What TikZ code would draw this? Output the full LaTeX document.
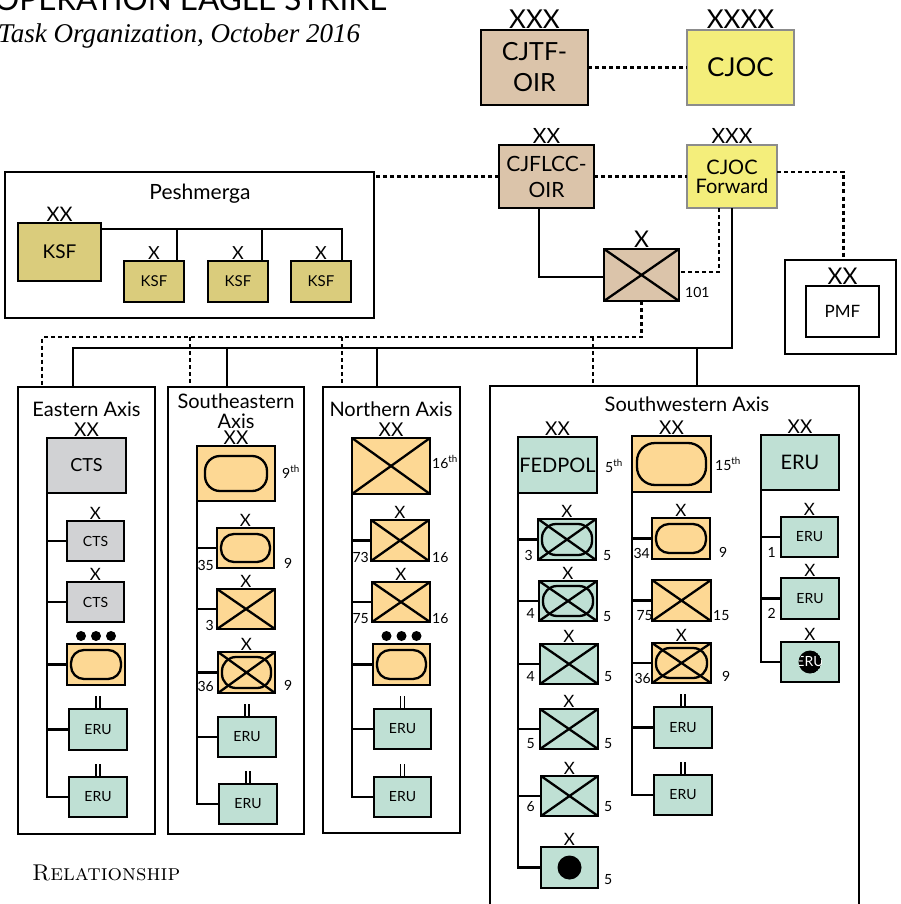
\documentclass[tikz,border=0pt]{standalone}
\usepackage{fontspec}
\usetikzlibrary{calc}
\newfontfamily\lbl{Lato}
\newfontfamily\serifit{Liberation Serif}
\definecolor{tanc}{HTML}{DBC4AA}
\definecolor{yelc}{HTML}{F4EE7B}
\definecolor{olvc}{HTML}{DACC7C}
\definecolor{gryc}{HTML}{D1D2D4}
\definecolor{orc}{HTML}{FDD894}
\definecolor{grnc}{HTML}{BFE0D4}
\tikzset{
 ub/.style={draw, line width=2.8pt, inner sep=0pt, outer sep=0pt, align=center},
 tanbox/.style={ub, fill=tanc},
 yelbox/.style={ub, fill=yelc, draw=black!45},
 olvbox/.style={ub, fill=olvc},
 grybox/.style={ub, fill=gryc},
 orbox/.style={ub, fill=orc},
 grnbox/.style={ub, fill=grnc},
 whbox/.style={ub, fill=white},
 t/.style={font=\lbl\fontsize{#1}{#1}\selectfont},
 ech/.style={inner sep=0pt, anchor=base, font=\lbl\fontsize{#1}{#1}\selectfont},
 num/.style={inner sep=0pt, font=\lbl\fontsize{14}{14}\selectfont},
 ttl/.style={inner sep=0pt, anchor=base, font=\lbl\fontsize{20}{20}\selectfont},
 conn/.style={line width=2.6pt},
 dconn/.style={line width=2.5pt, dash pattern=on 4pt off 3pt},
 xl/.style={line width=2.3pt},
}
\newcommand\ubox[7]{\node[#2, minimum width={(#5-#3)*1pt}, minimum height={(#6-#4)*1pt}] (#1) at ({(#3+#5)/2},{(#4+#6)/2}) {#7};}
\newcommand\xcross[1]{\draw[xl] (#1.north west) -- (#1.south east) (#1.north east) -- (#1.south west);}
\newcommand\pill[4]{\draw[xl, rounded corners=#4pt] ($(#1.north west)+(#2,#3)$) rectangle ($(#1.south east)+(-#2,-#3)$);}
\newcommand\ech[3]{\node[ech=#2] (#1e) at ($(#1.north)+(0,-1.5)$) {#3};}
\newcommand\twoln[1]{\draw[line width=1.7pt] ($(#1.north)+(-2,0)$) -- ++(0,-13) ($(#1.north)+(2,0)$) -- ++(0,-13);}
\newcommand\tridots[1]{\foreach \dx in {-15,0,15} {\fill ($(#1.north)+(\dx,-8)$) circle[radius=5pt];}}
\newcommand\lL[4]{\node[num, anchor=base east] (#1) at (#2,#3) {#4};}
\newcommand\lR[4]{\node[num, anchor=base west] (#1) at (#2,#3) {#4};}
\newcommand\brn[2]{\draw[conn] (#2.west) -- (#2.west -| #1.south west);}
\begin{document}
\begin{tikzpicture}[x=1pt,y=-1pt]
\useasboundingbox[fill=white] (0,0) rectangle (901,904);

% titles
\node[anchor=base west, inner sep=0pt] (title) at (-6,11) {\resizebox{393pt}{!}{\lbl OPERATION EAGLE STRIKE}};
\node[anchor=base west, inner sep=0pt] (subtitle) at (-2,43) {\resizebox{362pt}{!}{\serifit\itshape Task Organization, October 2016}};
\node[anchor=base west, inner sep=0pt] (rel) at (32,880) {\resizebox{148pt}{!}{\textsc{Relationship}}};

% top headquarters
\ubox{cjtf}{tanbox,font=\lbl\fontsize{25}{31}\selectfont}{481}{30}{588}{105}{CJTF-\\OIR}
\ech{cjtf}{26}{XXX}
\ubox{cjoc}{yelbox,t=26}{687}{30}{794}{105}{CJOC}
\ech{cjoc}{26}{XXXX}
\ubox{cjflcc}{tanbox,font=\lbl\fontsize{21}{26}\selectfont}{499}{145}{594}{208}{CJFLCC-\\OIR}
\ech{cjflcc}{21}{XX}
\ubox{cjfwd}{yelbox,font=\lbl\fontsize{20}{19}\selectfont}{687}{145}{777}{208}{CJOC\\Forward}
\ech{cjfwd}{21}{XXX}
\ubox{b101}{tanbox}{604}{249}{679}{301}{}
\xcross{b101}
\ech{b101}{23}{X}
\lR{b101l}{685}{297}{101}
\ubox{pmfo}{whbox}{785}{260}{896}{354}{}
\ubox{pmf}{whbox,t=17}{806}{286}{879}{337}{PMF}
\ech{pmf}{23}{XX}

% Peshmerga
\ubox{pesh}{whbox}{5}{172}{374}{318}{}
\node[inner sep=0pt, anchor=base, t=21] (peshT) at (200,199) {Peshmerga};
\ubox{ksf}{olvbox,t=19}{18}{223}{101}{281}{KSF}
\ech{ksf}{20}{XX}
\ubox{k1}{olvbox,t=15}{124}{261}{184}{302}{KSF}
\ubox{k2}{olvbox,t=15}{208}{261}{268}{302}{KSF}
\ubox{k3}{olvbox,t=15}{291}{261}{351}{302}{KSF}
\ech{k1}{18}{X}\ech{k2}{18}{X}\ech{k3}{18}{X}
\coordinate (kbus) at ($(ksf.north east)+(0,6)$);
\coordinate (k1t) at ($(k1.north east)+(-7,0)$);
\coordinate (k2t) at ($(k2.north east)+(-6,0)$);
\coordinate (k3t) at ($(k3.north east)+(-9,0)$);
\draw[conn] (kbus) -| (k3t);
\draw[conn] (k1t) -- (k1t |- kbus);
\draw[conn] (k2t) -- (k2t |- kbus);

% top connectors
\draw[dconn] (cjtf.east) -- (cjoc.west);
\draw[conn] ($(cjtf.south west)+(22,0)$) -- ($(cjtf.south west)+(22,0)$ |- cjflcc.north);
\draw[conn] ($(cjoc.south east)+(-31,0)$) -- ($(cjoc.south east)+(-31,0)$ |- cjfwd.north);
\draw[dconn] (cjflcc.west) -- (cjflcc.west -| pesh.east);
\draw[dconn] (cjflcc.east) -- (cjfwd.west);
\draw[dconn] ($(cjfwd.east)+(0,-4.5)$) -| ($(pmfo.north)+(3,0)$);
\draw[conn] ($(cjflcc.south west)+(40,0)$) |- ($(b101.west)+(0,2)$);
\draw[dconn] ($(cjfwd.south west)+(32,0)$) |- ($(b101.east)+(0,-3)$);

% axis boxes
\ubox{east}{whbox}{18}{387}{155}{834}{}
\ubox{seast}{whbox}{168}{387}{304}{834}{}
\ubox{nrth}{whbox}{323}{387}{460}{833}{}
\ubox{swest}{whbox}{490}{386}{859}{925}{}
\node[ttl] (eastT) at (86.5,416) {Eastern Axis};
\node[ttl] (seT1) at (236,408) {Southeastern};
\node[ttl] (seT2) at (236,428) {Axis};
\node[ttl] (nT) at (391,416) {Northern Axis};
\node[ttl] (swT) at (687,411) {Southwestern Axis};

\coordinate (busS) at (0,348);
\coordinate (busD) at (0,337);
\coordinate (dE) at ($(east.north west)+(55,0)$);
\coordinate (dSE) at ($(seast.north west)+(59,0)$);
\coordinate (dN) at ($(nrth.north west)+(54,0)$);
\coordinate (dSW) at ($(swest.north west)+(207,0)$);
\coordinate (qE) at ($(east.north west)+(24,0)$);
\coordinate (qSE) at ($(seast.north west)+(22,0)$);
\coordinate (qN) at ($(nrth.north west)+(19,0)$);
\coordinate (qSW) at ($(swest.north west)+(103,0)$);
\draw[conn] ($(cjfwd.south west)+(45,0)$) |- (dE |- busS) -- (dE);
\draw[conn] (dSE |- busS) -- (dSE);
\draw[conn] (dN |- busS) -- (dN);
\draw[conn] (dSW |- busS) -- (dSW);
\draw[dconn] (b101.south) |- (qE |- busD) -- (qE);
\draw[dconn] (qSE |- busD) -- (qSE);
\draw[dconn] (qN |- busD) -- (qN);
\draw[dconn] (qSW |- busD) -- (qSW);

% Eastern column
\ubox{cts}{grybox,t=18}{47}{438}{126}{493}{CTS}
\ech{cts}{19}{XX}
\ubox{e1}{grybox,t=14}{67}{521}{124}{561}{CTS}
\ech{e1}{17}{X}
\ubox{e2}{grybox,t=14}{67}{582}{124}{622}{CTS}
\ech{e2}{17}{X}
\ubox{e3}{orbox}{67}{644}{125}{685}{}
\pill{e3}{4}{6}{13}
\tridots{e3}
\ubox{e4}{grnbox,t=14}{69}{709}{127}{750}{ERU}
\twoln{e4}
\ubox{e5}{grnbox,t=14}{69}{777}{127}{817}{ERU}
\twoln{e5}
\draw[conn] (cts.south west) |- (e5.west);
\brn{cts}{e1}\brn{cts}{e2}\brn{cts}{e3}\brn{cts}{e4}

% Southeastern column
\ubox{ia9}{orbox}{197}{446}{275}{501}{}
\pill{ia9}{8}{10}{15}
\ech{ia9}{19}{XX}
\lR{ia9l}{282}{478}{9\textsuperscript{th}}
\ubox{s1}{orbox}{217}{528}{274}{568}{}
\pill{s1}{4}{6}{13}
\ech{s1}{17}{X}
\lL{s1l}{214}{570}{35}\lR{s1r}{284}{568}{9}
\ubox{s2}{orbox}{217}{589}{275}{629}{}
\xcross{s2}
\ech{s2}{17}{X}
\lL{s2l}{214}{630}{3}
\ubox{s3}{orbox}{218}{652}{275}{693}{}
\pill{s3}{4}{5}{14}
\xcross{s3}
\ech{s3}{17}{X}
\lL{s3l}{214}{691}{36}\lR{s3r}{284}{690}{9}
\ubox{s4}{grnbox,t=14}{218}{717}{276}{757}{ERU}
\twoln{s4}
\ubox{s5}{grnbox,t=14}{219}{784}{277}{824}{ERU}
\twoln{s5}
\draw[conn] (ia9.south west) |- (s5.west);
\brn{ia9}{s1}\brn{ia9}{s2}\brn{ia9}{s3}\brn{ia9}{s4}

% Northern column
\ubox{ia16}{orbox}{352}{438}{430}{494}{}
\xcross{ia16}
\ech{ia16}{19}{XX}
\lR{ia16l}{432}{468}{16\textsuperscript{th}}
\ubox{n1}{orbox}{371}{520}{429}{561}{}
\xcross{n1}
\ech{n1}{17}{X}
\lL{n1l}{369}{562}{73}\lR{n1r}{432}{562}{16}
\ubox{n2}{orbox}{372}{582}{430}{622}{}
\xcross{n2}
\ech{n2}{17}{X}
\lL{n2l}{369}{623}{75}\lR{n2r}{432}{623}{16}
\ubox{n3}{orbox}{373}{644}{430}{685}{}
\pill{n3}{4}{6}{13}
\tridots{n3}
\ubox{n4}{grnbox,t=14}{374}{709}{431}{749}{ERU}
\twoln{n4}
\ubox{n5}{grnbox,t=14}{374}{777}{431}{817}{ERU}
\twoln{n5}
\draw[conn] (ia16.south west) |- (n5.west);
\brn{ia16}{n1}\brn{ia16}{n2}\brn{ia16}{n3}\brn{ia16}{n4}

% Southwestern: FEDPOL
\ubox{fp}{grnbox,t=20}{518}{437}{597}{493}{FEDPOL}
\ech{fp}{19}{XX}
\lR{fpl}{605}{472}{5\textsuperscript{th}}
\ubox{f1}{grnbox}{538}{519}{596}{560}{}
\pill{f1}{4}{5}{14}
\xcross{f1}
\ech{f1}{17}{X}
\lL{f1l}{533}{560}{3}\lR{f1r}{603}{560}{5}
\ubox{f2}{grnbox}{539}{581}{597}{621}{}
\pill{f2}{4}{5}{14}
\xcross{f2}
\ech{f2}{17}{X}
\lL{f2l}{535}{618}{4}\lR{f2r}{603}{621}{5}
\ubox{f3}{grnbox}{540}{644}{598}{684}{}
\xcross{f3}
\ech{f3}{17}{X}
\lL{f3l}{535}{681}{4}\lR{f3r}{604}{681}{5}
\ubox{f4}{grnbox}{540}{709}{598}{749}{}
\xcross{f4}
\ech{f4}{17}{X}
\lL{f4l}{535}{748}{5}\lR{f4r}{604}{748}{5}
\ubox{f5}{grnbox}{541}{776}{598}{816}{}
\xcross{f5}
\ech{f5}{17}{X}
\lL{f5l}{535}{811}{6}\lR{f5r}{604}{811}{5}
\ubox{f6}{grnbox}{541}{847}{598}{888}{}
\fill (f6.center) circle[radius=12pt];
\ech{f6}{17}{X}
\lR{f6r}{604}{884}{5}
\draw[conn] (fp.south west) |- (f6.west);
\brn{fp}{f1}\brn{fp}{f2}\brn{fp}{f3}\brn{fp}{f4}\brn{fp}{f5}

% Southwestern: 15th
\ubox{ia15}{orbox}{632}{436}{711}{492}{}
\pill{ia15}{5}{7}{18}
\ech{ia15}{19}{XX}
\lR{ia15l}{715}{470}{15\textsuperscript{th}}
\ubox{w1}{orbox}{652}{518}{710}{559}{}
\pill{w1}{4}{6}{13}
\ech{w1}{17}{X}
\lL{w1l}{650}{558}{34}\lR{w1r}{719}{557}{9}
\ubox{w2}{orbox}{652}{580}{711}{621}{}
\xcross{w2}
\lL{w2l}{653}{620}{75}\lR{w2r}{713}{620}{15}
\ubox{w3}{orbox}{652}{643}{711}{683}{}
\pill{w3}{4}{5}{14}
\xcross{w3}
\ech{w3}{17}{X}
\lL{w3l}{651}{683}{36}\lR{w3r}{722}{681}{9}
\ubox{w4}{grnbox,t=14}{654}{707}{712}{748}{ERU}
\twoln{w4}
\ubox{w5}{grnbox,t=14}{654}{775}{712}{815}{ERU}
\twoln{w5}
\draw[conn] (ia15.south west) |- (w5.west);
\brn{ia15}{w1}\brn{ia15}{w2}\brn{ia15}{w3}\brn{ia15}{w4}

% Southwestern: ERU
\ubox{eru}{grnbox,t=20}{761}{435}{839}{490}{ERU}
\ech{eru}{19}{XX}
\ubox{r1}{grnbox,t=14}{781}{517}{838}{557}{ERU}
\ech{r1}{17}{X}
\lL{r1l}{776}{557}{1}
\ubox{r2}{grnbox,t=14}{781}{578}{839}{619}{ERU}
\ech{r2}{17}{X}
\lL{r2l}{776}{618}{2}
\ubox{r3}{grnbox}{781}{642}{839}{682}{}
\ech{r3}{17}{X}
\begin{scope}
\clip (r3.center) circle[radius=11.5pt];
\fill (r3.center) circle[radius=11.5pt];
\node[t=14, text=white, inner sep=0pt] (r3t) at (r3.center) {ERU};
\end{scope}
\draw[conn] (eru.south west) |- (r3.west);
\brn{eru}{r1}\brn{eru}{r2}
\end{tikzpicture}
\end{document}
